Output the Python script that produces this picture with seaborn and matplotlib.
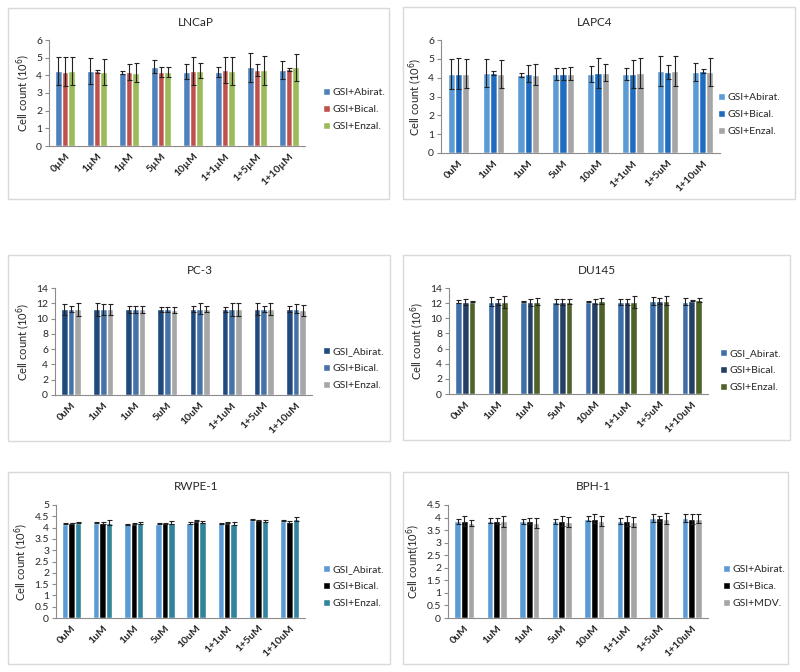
import pandas as pd
import matplotlib.pyplot as plt
import seaborn as sns
from matplotlib.patches import Rectangle

# doses (tick labels), LNCaP uses the micro sign, the others plain "u"
doses_mu = ["0µM", "1µM", "1µM", "5µM", "10µM", "1+1µM", "1+5µM", "1+10µM"]
doses_u = ["0uM", "1uM", "1uM", "5uM", "10uM", "1+1uM", "1+5uM", "1+10uM"]

# LNCaP
lncap_names = ["GSI+Abirat.", "GSI+Bical.", "GSI+Enzal."]
lncap_abi = [4.25, 4.25, 4.15, 4.5, 4.2, 4.2, 4.45, 4.3]
lncap_abi_err = [0.77, 0.72, 0.1, 0.35, 0.42, 0.3, 0.8, 0.5]
lncap_bic = [4.2, 4.22, 4.2, 4.2, 4.25, 4.3, 4.3, 4.35]
lncap_bic_err = [0.82, 0.1, 0.45, 0.3, 0.78, 0.75, 0.35, 0.08]
lncap_enz = [4.25, 4.2, 4.15, 4.2, 4.25, 4.25, 4.3, 4.45]
lncap_enz_err = [0.77, 0.75, 0.52, 0.3, 0.42, 0.78, 0.82, 0.75]

# LAPC4
lapc4_names = ["GSI+Abirat.", "GSI+Bical.", "GSI+Enzal."]
lapc4_abi = [4.2, 4.25, 4.15, 4.2, 4.2, 4.2, 4.35, 4.3]
lapc4_abi_err = [0.78, 0.75, 0.1, 0.32, 0.42, 0.3, 0.8, 0.5]
lapc4_bic = [4.2, 4.25, 4.2, 4.2, 4.25, 4.2, 4.3, 4.35]
lapc4_bic_err = [0.82, 0.1, 0.45, 0.3, 0.78, 0.75, 0.35, 0.1]
lapc4_enz = [4.2, 4.2, 4.15, 4.2, 4.25, 4.25, 4.35, 4.3]
lapc4_enz_err = [0.77, 0.75, 0.55, 0.35, 0.45, 0.78, 0.78, 0.72]

# PC-3
pc3_names = ["GSI_Abirat.", "GSI+Bical.", "GSI+Enzal."]
pc3_abi = [11.2, 11.2, 11.2, 11.2, 11.2, 11.2, 11.3, 11.3]
pc3_abi_err = [0.7, 0.8, 0.5, 0.3, 0.4, 0.3, 0.8, 0.4]
pc3_bic = [11.2, 11.2, 11.2, 11.2, 11.3, 11.2, 11.3, 11.3]
pc3_bic_err = [0.4, 0.7, 0.5, 0.3, 0.7, 0.8, 0.4, 0.6]
pc3_enz = [11.2, 11.2, 11.2, 11.1, 11.2, 11.2, 11.3, 11.1]
pc3_enz_err = [0.8, 0.7, 0.5, 0.4, 0.4, 0.8, 0.8, 0.7]

# DU145
du145_names = ["GSI_Abirat.", "GSI+Bical.", "GSI+Enzal."]
du145_abi = [12.2, 12.2, 12.2, 12.2, 12.2, 12.2, 12.3, 12.2]
du145_abi_err = [0.2, 0.6, 0.1, 0.35, 0.1, 0.4, 0.5, 0.5]
du145_bic = [12.2, 12.2, 12.1, 12.2, 12.2, 12.2, 12.3, 12.3]
du145_bic_err = [0.4, 0.4, 0.5, 0.4, 0.35, 0.4, 0.35, 0.05]
du145_enz = [12.2, 12.2, 12.2, 12.2, 12.3, 12.2, 12.3, 12.4]
du145_enz_err = [0.1, 0.8, 0.5, 0.35, 0.4, 0.8, 0.6, 0.3]

# RWPE-1
rwpe_names = ["GSI_Abirat.", "GSI+Bical.", "GSI+Enzal."]
rwpe_abi = [4.18, 4.22, 4.15, 4.18, 4.2, 4.2, 4.35, 4.3]
rwpe_abi_err = [0.01, 0.03, 0.02, 0.01, 0.05, 0.02, 0.02, 0.02]
rwpe_bic = [4.2, 4.2, 4.18, 4.2, 4.3, 4.22, 4.33, 4.25]
rwpe_bic_err = [0.01, 0.03, 0.02, 0.02, 0.03, 0.02, 0.02, 0.05]
rwpe_enz = [4.22, 4.22, 4.2, 4.22, 4.25, 4.18, 4.3, 4.38]
rwpe_enz_err = [0.02, 0.1, 0.06, 0.07, 0.04, 0.05, 0.05, 0.07]

# BPH-1
bph_names = ["GSI+Abirat.", "GSI+Bica.", "GSI+MDV."]
bph_abi = [3.85, 3.88, 3.85, 3.85, 3.95, 3.88, 3.98, 3.98]
bph_abi_err = [0.1, 0.1, 0.1, 0.1, 0.1, 0.12, 0.15, 0.15]
bph_bic = [3.85, 3.88, 3.85, 3.85, 3.95, 3.85, 3.98, 3.93]
bph_bic_err = [0.2, 0.12, 0.12, 0.2, 0.18, 0.2, 0.1, 0.2]
bph_enz = [3.8, 3.85, 3.8, 3.82, 3.85, 3.82, 3.95, 3.95]
bph_enz_err = [0.12, 0.22, 0.2, 0.2, 0.2, 0.2, 0.22, 0.18]

sns.set_style("white")
plt.rcParams['font.family'] = ['Lato', 'DejaVu Sans']

W, H = 800, 672
fig = plt.figure(figsize=(8, 6.72), dpi=100)

AXIS_GRAY = '#8c8c8c'


def px_axes(left, top, right, bottom):
    return fig.add_axes([left / W, 1 - bottom / H, (right - left) / W, (bottom - top) / H])


def panel(box, ax_px, title, title_xy, labels, names, vals, errs, colors,
          ymax, ystep, ylabel, leg_xy):
    # panel frame
    x0, y0, x1, y1 = box
    fig.patches.append(Rectangle((x0 / W, 1 - y1 / H), (x1 - x0) / W, (y1 - y0) / H,
                                 transform=fig.transFigure, fill=False,
                                 edgecolor='#d9d9d9', linewidth=1.0))
    fig.text(title_xy[0] / W, 1 - title_xy[1] / H, title, ha='center', va='center',
             fontsize=8.5)

    ax = px_axes(*ax_px)
    pos = [str(i) for i in range(len(labels))]
    rows = []
    for name, v in zip(names, vals):
        for p, val in zip(pos, v):
            rows.append({'pos': p, 'treatment': name, 'count': val})
    df = pd.DataFrame(rows)
    sns.barplot(data=df, x='pos', y='count', hue='treatment', order=pos,
                hue_order=names, palette=colors, width=0.62, saturation=1,
                errorbar=None, ax=ax, legend=True)

    for cont, err in zip(ax.containers, errs):
        xs = [b.get_x() + b.get_width() / 2 for b in cont]
        ys = [b.get_height() for b in cont]
        ax.errorbar(xs, ys, yerr=err, fmt='none', ecolor='#222222',
                    elinewidth=0.8, capsize=1.8, capthick=0.8)

    ax.set_xlim(-0.5, len(labels) - 0.5)
    ax.set_ylim(0, ymax)
    ticks = []
    t = 0.0
    while t <= ymax + 1e-9:
        ticks.append(round(t, 2))
        t += ystep
    ax.set_yticks(ticks)
    ax.set_yticklabels([f"{v:g}" for v in ticks], fontsize=7.5)
    ax.set_xticks(range(len(labels)))
    ax.set_xticklabels(labels, rotation=45, ha='right', rotation_mode='anchor',
                       fontsize=7.5, fontweight='bold')
    ax.set_xticks([i + 0.5 for i in range(-1, len(labels))], minor=True)
    ax.tick_params(axis='x', which='major', length=0, pad=4)
    ax.tick_params(axis='x', which='minor', length=3, color=AXIS_GRAY, width=0.8)
    ax.tick_params(axis='y', length=3, color=AXIS_GRAY, width=0.8, pad=2, left=True)
    ax.set_xlabel('')
    ax.set_ylabel(ylabel, fontsize=8, labelpad=3)
    for s in ['top', 'right']:
        ax.spines[s].set_visible(False)
    for s in ['left', 'bottom']:
        ax.spines[s].set_color(AXIS_GRAY)
        ax.spines[s].set_linewidth(0.8)
    ax.set_facecolor('none')

    handles, lbls = ax.get_legend_handles_labels()
    ax.legend(handles, lbls, loc='upper left',
              bbox_to_anchor=(leg_xy[0] / W, 1 - leg_xy[1] / H),
              bbox_transform=fig.transFigure, frameon=False, fontsize=7.5,
              handlelength=0.65, handleheight=0.65, handletextpad=0.3,
              labelspacing=0.75, borderaxespad=0, borderpad=0)
    return ax


ylab = 'Cell count (10$^6$)'

panel((8, 8, 389, 199), (49, 40, 305, 146), 'LNCaP', (196, 22), doses_mu,
      lncap_names, [lncap_abi, lncap_bic, lncap_enz],
      [lncap_abi_err, lncap_bic_err, lncap_enz_err],
      ['#4f81bd', '#c0504d', '#9bbb59'], 6, 1, ylab, (323, 88))

panel((403, 7, 795, 199), (441, 40, 720, 153), 'LAPC4', (595, 22), doses_u,
      lapc4_names, [lapc4_abi, lapc4_bic, lapc4_enz],
      [lapc4_abi_err, lapc4_bic_err, lapc4_enz_err],
      ['#5b9bd5', '#1f6cc0', '#a5a5a5'], 6, 1, ylab, (718, 93))

panel((8, 255, 390, 441), (55, 288, 312, 395), 'PC-3', (200, 270), doses_u,
      pc3_names, [pc3_abi, pc3_bic, pc3_enz],
      [pc3_abi_err, pc3_bic_err, pc3_enz_err],
      ['#1f4a7e', '#4672a8', '#a6a6a6'], 14, 2, ylab, (323, 347))

panel((403, 255, 790, 440), (449, 288, 708, 394), 'DU145', (597, 271), doses_u,
      du145_names, [du145_abi, du145_bic, du145_enz],
      [du145_abi_err, du145_bic_err, du145_enz_err],
      ['#3f6fa8', '#243f64', '#4f6228'], 14, 2, ylab, (720, 349))

panel((8, 472, 390, 664), (56, 505, 305, 618), 'RWPE-1', (196, 487), doses_u,
      rwpe_names, [rwpe_abi, rwpe_bic, rwpe_enz],
      [rwpe_abi_err, rwpe_bic_err, rwpe_enz_err],
      ['#5b9bd5', '#000000', '#31849b'], 5, 0.5, ylab, (323, 565))

panel((403, 472, 788, 664), (448, 505, 708, 618), 'BPH-1', (593, 487), doses_u,
      bph_names, [bph_abi, bph_bic, bph_enz],
      [bph_abi_err, bph_bic_err, bph_enz_err],
      ['#5b9bd5', '#000000', '#a5a5a5'], 4.5, 0.5, 'Cell count(10$^6$)', (723, 565))

fig.savefig('out.png', dpi=100, facecolor='white')
